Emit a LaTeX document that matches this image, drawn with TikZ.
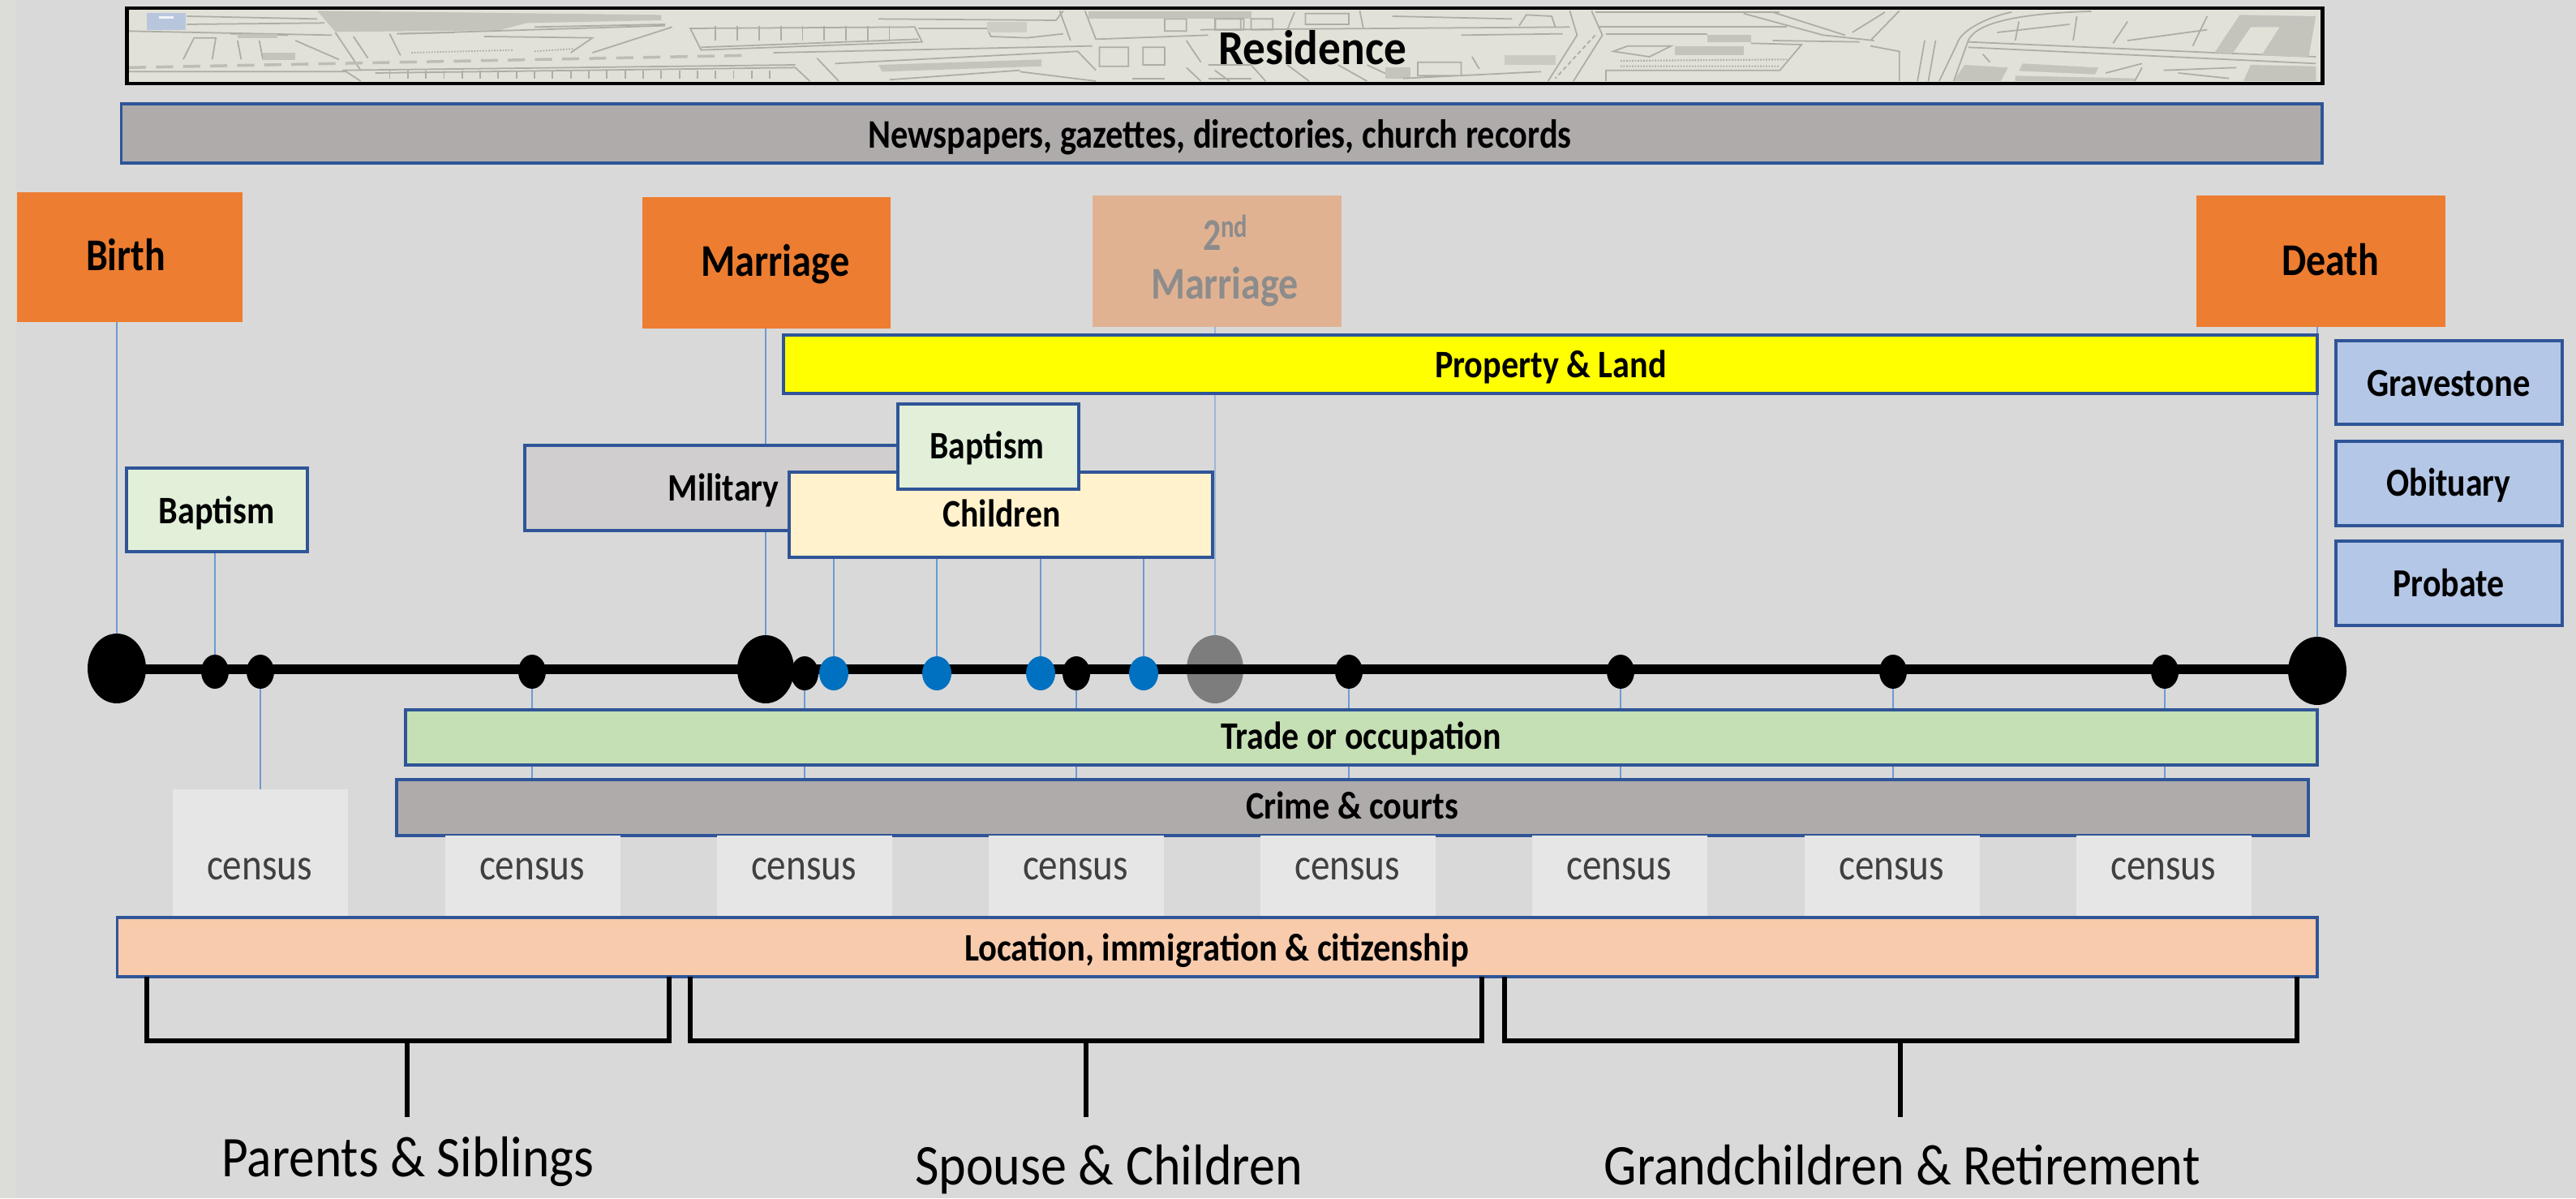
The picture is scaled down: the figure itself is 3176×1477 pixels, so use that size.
\documentclass[tikz,border=0pt]{standalone}
\usepackage{fontspec}
\usepackage{graphicx}
\setmainfont{Carlito}
\usetikzlibrary{shapes.geometric}
\pgfdeclarelayer{base}
\pgfdeclarelayer{lines}
\pgfsetlayers{base,lines,main}
\definecolor{bgc}{HTML}{D9D9D9}
\definecolor{edgec}{HTML}{2F5597}
\definecolor{thinc}{HTML}{6C9BD2}
\definecolor{orangec}{HTML}{ED7D31}
\definecolor{greyc}{HTML}{AFABAB}
\definecolor{milc}{HTML}{D0CECE}
\definecolor{bluec}{HTML}{B4C7E7}
\definecolor{paleg}{HTML}{E2F0D9}
\definecolor{cream}{HTML}{FFF2CC}
\definecolor{tradec}{HTML}{C5E0B4}
\definecolor{locc}{HTML}{F8CBAD}
\definecolor{censc}{HTML}{E7E6E6}
\definecolor{dotblue}{HTML}{0070C0}
\definecolor{propc}{HTML}{FFFF00}
\definecolor{ghosttext}{HTML}{8C8C8C}
\definecolor{mapbase}{HTML}{E1E1D8}
\definecolor{mapln}{HTML}{ADADA5}
\definecolor{mapfl}{HTML}{C4C4BD}
\definecolor{stripc}{HTML}{DCDCD8}
\newcommand\bx[6]{\node[rectangle,inner sep=0pt,outer sep=0pt,#2,minimum width=\fpeval{(#5-#3)*0.02}cm,minimum height=\fpeval{(#6-#4)*0.02}cm] (#1) at ({(#3+#5)/2},{(#4+#6)/2}) {};}
\newcommand\tx[6]{\node[lab,#5] (#1) at (#2,#3) {\resizebox{\fpeval{#4*0.02}cm}{\height}{#6}};}
\newcommand\fsz[1]{\fontsize{\fpeval{#1*0.569}}{\fpeval{#1*0.7}}\selectfont}
\newcommand\dt[6]{\node[ellipse,inner sep=0pt,outer sep=0pt,minimum width=\fpeval{#5*0.04}cm,minimum height=\fpeval{#6*0.04}cm,#2] (#1) at (#3,#4) {};}
\tikzset{
  lab/.style={inner sep=0pt,outer sep=0pt,anchor=base,text=black},
  bar/.style={draw=edgec,line width=2pt},
  event/.style={fill=orangec},
  censusbox/.style={fill=censc},
  hair/.style={draw=thinc,line width=0.8pt},
  faint/.style={draw=thinc!55!bgc,line width=0.8pt},
  bracket/.style={draw=black,line width=3pt,line join=miter},
  stem/.style={draw=black,line width=3.1pt},
  bigblack/.style={fill=black},
  smallblack/.style={fill=black},
  kid/.style={fill=dotblue},
  ghost/.style={fill=black,fill opacity=0.42},
  mp/.style={draw=mapln,line width=1pt},
  mpd/.style={draw=mapln!70!mapbase,line width=2pt,dash pattern=on 12pt off 7pt},
  mf/.style={fill=mapfl,draw=none},
  censustext/.style={text=black!75},
  evt/.style={font=\fsz{56}\bfseries},
  bart/.style={font=\fsz{48}\bfseries},
  bigt/.style={font=\fsz{71}},
}
\begin{document}
\begin{tikzpicture}[x=0.02cm,y=-0.02cm]
\useasboundingbox (0,0) rectangle (3176,1477);
\begin{pgfonlayer}{base}
\fill[bgc] (0,0) rectangle (3176,1477);
\fill[stripc] (0,0) rectangle (20,1477);
\end{pgfonlayer}

% Residence strip with the old map
\bx{res}{fill=mapbase}{156}{10}{2864}{103}
\begin{scope}
\clip (156,12) rectangle (2864,101);
\begin{scope}[shift={(150,0)},xscale=0.893,yscale=0.3333]
\fill[mf] (270,40)--(745,55)--(745,75)--(560,85)--(520,112)--(295,118)--cycle;
\fill[bluec!75!mapfl] (35,48) rectangle (88,112);
\fill[white!80!bluec] (52,60) rectangle (72,68);
\draw[mp] (90,60)--(270,70) (90,90)--(280,85) (10,115)--(290,130) (150,125)--(230,130);
\fill[mf] (160,125) rectangle (215,140);
\draw[mp] (85,220)--(100,140)--(130,140)--(125,220) (160,150)--(165,220) (190,150)--(195,220);
\fill[mf] (195,195) rectangle (240,222);
\draw[mp] (240,150)--(300,220) (295,120)--(330,260) (320,135)--(340,215) (370,125)--(385,205) (385,125)--(750,95);
\draw[mp] (380,125)--(460,120) (570,100)--(750,90) (500,135)--(650,140)--(620,195) (650,195)--(760,100);
\draw[mp,densely dotted] (400,195)--(540,185) (570,190)--(625,180);
\draw[mpd] (10,250)--(860,205);
\draw[mp] (10,265)--(310,265)--(330,300) (305,260)--(930,240) (350,270)--(930,250)--(950,300);
\foreach \i in {370,395,...,900} {\draw[mp] (\i,262)--(\i,292);}
\draw[mp] (785,105)--(800,185)--(1105,155)--(1095,100)--cycle;
\foreach \i in {820,850,...,1080} {\draw[mp] (\i,95)--(\i,150);}
\draw[mp] (960,215)--(990,300) (900,195)--(1340,170) (800,175)--(1100,145);
\fill[mf] (1045,240)--(1270,220)--(1270,245)--(1050,265)--cycle;
\draw[mp] (985,235)--(1320,190)--(1345,260) (1060,295)--(1240,260) (1240,265)--(1345,300);
\draw[mp] (1045,70)--(1290,75)--(1300,40) (1100,105)--(1195,105)--(1200,135)--(1250,140)--(1300,125);
\fill[mapfl!70!mapbase] (1195,80) rectangle (1250,120);
\draw[mp] (1330,40)--(1345,145)--(1500,130) (1295,40)--(1310,150) (1440,70) rectangle (1470,115) (1510,70) rectangle (1545,110);
\fill[mf] (1335,42) rectangle (1560,68);
\draw[mp] (1350,175) rectangle (1390,245) (1410,175) rectangle (1440,240) (1470,150)--(1490,230) (1470,250)--(1490,300) (1500,240)--(1560,240);
\draw[mp] (1395,290)--(1440,290) (1500,290)--(1560,290);
\end{scope}
\begin{scope}[shift={(1480,0)},xscale=0.893,yscale=0.3333]
\draw[mp] (20,70) rectangle (60,110) (70,70) rectangle (100,110) (130,45)--(120,110) (145,50) rectangle (205,90) (220,40)--(225,105);
\draw[mp] (265,60)--(430,70) (440,95)--(450,55)--(485,60)--(490,100) (0,110)--(510,100) (360,130)--(500,125);
\draw[mp] (510,40)--(520,130)--(480,300) (540,40)--(555,130)--(515,300);
\draw[mp,densely dashed] (545,130)--(490,290);
\draw[mp] (20,260)--(40,300) (70,240)--(90,300) (120,240)--(150,300) (190,240)--(230,300) (230,240)--(270,290);
\fill[mf] (255,250) rectangle (290,290);
\draw[mp] (300,230) rectangle (360,280) (375,210)--(385,255) (470,265)--(280,290);
\fill[mapfl!80!mapbase] (420,205) rectangle (490,240);
\draw[mp] (545,45)--(800,45) (550,100)--(810,100) (560,125)--(700,125);
\fill[mf] (700,130) rectangle (760,155);
\fill[mf] (655,170) rectangle (750,205);
\draw[mp] (590,170)--(650,170)--(620,210)--(570,190)--cycle;
\draw[mp] (760,160)--(830,165)--(800,260)--(560,260)--(560,300);
\draw[mp,densely dotted,line width=1.2pt] (580,225)--(810,220) (580,245)--(800,245);
\draw[mp] (750,50)--(860,130)--(930,150) (790,45)--(890,130) (965,40)--(925,150) (945,45)--(900,120) (790,150)--(910,155) (925,170)--(965,190)--(965,300);
\draw[mp] (1000,150)--(990,300) (1015,150)--(1005,300);
\draw[mp] (1040,300)--(1060,150) .. controls (1070,90) and (1120,50) .. (1230,42);
\draw[mp] (1020,300)--(1045,160) .. controls (1050,110) and (1090,60) .. (1120,45);
\draw[mp] (1060,155)--(1400,195)--(1540,210) (1060,175)--(1540,235);
\draw[mp] (1130,80)--(1125,150) (1210,60)--(1205,150) (1280,80)--(1260,160) (1390,60)--(1370,170) (1100,120)--(1200,90) (1280,150)--(1390,110);
\fill[mf] (1435,55)--(1400,195)--(1425,198)--(1450,100)--(1490,100)--(1465,205)--(1530,212)--(1540,60)--cycle;
\fill[mf] (1040,300)--(1055,240)--(1115,250)--(1105,300)--cycle;
\fill[mf] (1135,235)--(1240,250)--(1235,275)--(1130,262)--cycle;
\fill[mf] (1125,280)--(1290,290)--(1290,300)--(1125,300)--cycle;
\fill[mf] (1450,240)--(1540,245)--(1540,300)--(1440,300)--cycle;
\draw[mp] (1250,270)--(1300,235) (1330,260)--(1430,250) (1080,200)--(1090,230) (1350,270)--(1420,290) (1300,250)--(1290,300);
\end{scope}
\end{scope}
\draw[draw=black,line width=2.6pt] (res.north west) rectangle (res.south east);
\tx{tres}{1618}{80}{232}{font=\fsz{60}\bfseries}{Residence}

% Timeline dots first so the hair lines can name them
\dt{dbirth}{bigblack}{144}{824}{36}{43}
\dt{dbap}{smallblack}{265}{828}{17}{21}
\dt{c1}{smallblack}{321}{828}{17}{21}
\dt{c2}{smallblack}{656}{828}{17}{21}
\dt{dmar}{bigblack}{944}{825}{35}{42}
\dt{c3}{smallblack}{992}{830}{17}{21}
\dt{c4}{smallblack}{1327}{830}{17}{21}
\dt{c5}{smallblack}{1663}{828}{17}{21}
\dt{c6}{smallblack}{1998}{828}{17}{21}
\dt{c7}{smallblack}{2334}{828}{17}{21}
\dt{c8}{smallblack}{2669}{828}{17}{21}
\dt{ddeath}{bigblack}{2857}{827}{36}{42}
\coordinate (tlstart) at (144,825);
\draw[line width=6.4pt,draw=black] (tlstart) -- (tlstart -| ddeath);
\dt{k1}{kid}{1028}{830}{18}{21}
\dt{k2}{kid}{1155}{830}{18}{21}
\dt{k3}{kid}{1283}{830}{18}{21}
\dt{k4}{kid}{1410}{830}{18}{21}
\dt{dsec}{ghost}{1498}{825}{35}{42}

% Long bars
\bx{news}{bar,fill=greyc}{149}{128}{2863}{201}
\tx{tnews}{1504}{182}{868}{font=\fsz{50}\bfseries}{Newspapers, gazettes, directories, church records}

% Event boxes
\bx{birth}{event}{21}{237}{299}{397}
\tx{tbirth}{155}{333}{98}{evt}{Birth}
\bx{mar}{event}{792}{243}{1098}{405}
\tx{tmar}{956}{340}{183}{evt}{Marriage}
\bx{sec}{fill=orangec,fill opacity=0.42}{1347}{241}{1654}{403}
\tx{tsec}{1511}{308}{56}{evt,text=ghosttext}{2\textsuperscript{nd}}
\tx{tsecb}{1510}{368}{182}{evt,text=ghosttext}{Marriage}
\bx{death}{event}{2708}{241}{3015}{403}
\tx{tdeath}{2873}{339}{120}{evt}{Death}

\bx{prop}{bar,fill=propc}{966}{413}{2857}{485}
\tx{tprop}{1912}{465}{286}{bart}{Property \& Land}

\bx{grave}{bar,fill=bluec}{2880}{420}{3159}{523}
\tx{tgrave}{3019}{488}{201}{font=\fsz{49}\bfseries}{Gravestone}
\bx{obit}{bar,fill=bluec}{2880}{544}{3159}{648}
\tx{tobit}{3019}{611}{153}{font=\fsz{49}\bfseries}{Obituary}
\bx{prob}{bar,fill=bluec}{2880}{667}{3159}{771}
\tx{tprob}{3019}{735}{137}{font=\fsz{49}\bfseries}{Probate}

\bx{bap}{bar,fill=paleg}{156}{577}{379}{680}
\tx{tbap}{267}{645}{143}{bart}{Baptism}
\bx{mil}{bar,fill=milc}{647}{549}{1137}{654}
\tx{tmil}{892}{617}{137}{bart}{Military}
\bx{kids}{bar,fill=cream}{973}{582}{1495}{687}
\tx{tkids}{1235}{649}{145}{bart}{Children}
\bx{bapb}{bar,fill=paleg}{1107}{498}{1330}{603}
\tx{tbapb}{1217}{565}{141}{bart}{Baptism}

\bx{trade}{bar,fill=tradec}{500}{875}{2857}{943}
\tx{ttrade}{1678}{923}{346}{bart}{Trade or occupation}
\bx{crime}{bar,fill=greyc}{489}{961}{2846}{1030}
\tx{tcrime}{1667}{1009}{262}{bart}{Crime \& courts}

% Census boxes
\bx{cen1}{censusbox}{213}{973}{429}{1130}
\bx{cen2}{censusbox}{549}{1030}{765}{1130}
\bx{cen3}{censusbox}{884}{1030}{1100}{1130}
\bx{cen4}{censusbox}{1219}{1030}{1435}{1130}
\bx{cen5}{censusbox}{1554}{1030}{1770}{1130}
\bx{cen6}{censusbox}{1889}{1030}{2105}{1130}
\bx{cen7}{censusbox}{2225}{1030}{2441}{1130}
\bx{cen8}{censusbox}{2560}{1030}{2776}{1130}
\tx{tc1}{320}{1084}{130}{font=\fsz{55},censustext}{census}
\tx{tc2}{656}{1084}{130}{font=\fsz{55},censustext}{census}
\tx{tc3}{991}{1084}{130}{font=\fsz{55},censustext}{census}
\tx{tc4}{1326}{1084}{130}{font=\fsz{55},censustext}{census}
\tx{tc5}{1661}{1084}{130}{font=\fsz{55},censustext}{census}
\tx{tc6}{1996}{1084}{130}{font=\fsz{55},censustext}{census}
\tx{tc7}{2332}{1084}{130}{font=\fsz{55},censustext}{census}
\tx{tc8}{2667}{1084}{130}{font=\fsz{55},censustext}{census}

\bx{loc}{bar,fill=locc}{144}{1131}{2857}{1204}
\tx{tloc}{1500}{1184}{622}{bart}{Location, immigration \& citizenship}

% Brackets under the location bar
\coordinate (b1l) at (181,1204);
\coordinate (b1r) at (825,1204);
\coordinate (b2l) at (851,1204);
\coordinate (b2r) at (1827,1204);
\coordinate (b3l) at (1855,1204);
\coordinate (b3r) at (2832,1204);
\draw[bracket] (b1l) -- ++(0,79) -| (b1r);
\draw[bracket] (b2l) -- ++(0,79) -| (b2r);
\draw[bracket] (b3l) -- ++(0,79) -| (b3r);
\tx{tparents}{503}{1450}{459}{bigt}{Parents \& Siblings}
\tx{tspouse}{1367}{1460}{478}{bigt}{Spouse \& Children}
\tx{tgrand}{2345}{1460}{735}{bigt}{Grandchildren \& Retirement}
\coordinate (s1t) at (502,1283);
\coordinate (s1b) at (502,1377);
\coordinate (s2t) at (1339,1283);
\coordinate (s2b) at (1339,1377);
\coordinate (s3t) at (2343,1283);
\coordinate (s3b) at (2343,1377);
\draw[stem] (s1t) -- (s1b);
\draw[stem] (s2t) -- (s2b);
\draw[stem] (s3t) -- (s3b);

% Hair lines behind everything
\begin{pgfonlayer}{lines}
\draw[hair] (dbirth |- birth.south) -- (dbirth);
\draw[hair] (dmar |- mar.south) -- (dmar);
\draw[hair] (ddeath |- death.south) -- (ddeath);
\draw[faint] (dsec |- sec.south) -- (dsec);
\draw[hair] (dbap |- bap.south) -- (dbap);
\draw[hair] (k1 |- kids.south) -- (k1);
\draw[hair] (k2 |- kids.south) -- (k2);
\draw[hair] (k3 |- kids.south) -- (k3);
\draw[hair] (k4 |- kids.south) -- (k4);
\draw[hair] (c1) -- (c1 |- cen1.north);
\draw[hair] (c2) -- (c2 |- crime.north);
\draw[hair] (c3) -- (c3 |- crime.north);
\draw[hair] (c4) -- (c4 |- crime.north);
\draw[hair] (c5) -- (c5 |- crime.north);
\draw[hair] (c6) -- (c6 |- crime.north);
\draw[hair] (c7) -- (c7 |- crime.north);
\draw[hair] (c8) -- (c8 |- crime.north);
\end{pgfonlayer}
\end{tikzpicture}
\end{document}
